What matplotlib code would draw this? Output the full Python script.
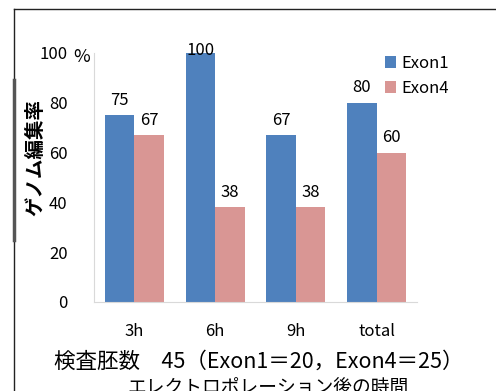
import matplotlib
matplotlib.use("Agg")
import matplotlib.pyplot as plt
import numpy as np
from matplotlib.lines import Line2D

plt.rcParams["font.family"] = ["Noto Sans CJK JP", "DejaVu Sans"]

categories = ["3h", "6h", "9h", "total"]
exon1 = [75, 100, 67, 80]
exon4 = [67, 38, 38, 60]
y_ticks = [0, 20, 40, 60, 80, 100]

BLUE = "#4F81BD"
PINK = "#D99694"
W, H = 496, 391

fig = plt.figure(figsize=(W / 100, H / 100), dpi=100)
ax = fig.add_axes([94 / W, 1 - 302 / H, (417 - 94) / W, (302 - 53) / H])

x = np.arange(len(categories))
bw = 0.365
ax.bar(x - bw / 2, exon1, bw, color=BLUE, label="Exon1", zorder=2)
ax.bar(x + bw / 2, exon4, bw, color=PINK, label="Exon4", zorder=2)

# value labels above each bar, kept inside the plot area
for xs, vals in ((x - bw / 2, exon1), (x + bw / 2, exon4)):
    for xi, v in zip(xs, vals):
        ax.text(xi, min(v + 6, 101), str(v), ha="center", va="center",
                fontsize=12, color="#000000", zorder=3, clip_on=False)

ax.set_xlim(-0.5, len(categories) - 0.5)
ax.set_ylim(0, 100)
ax.set_yticks(y_ticks)
ax.set_yticklabels([str(t) for t in y_ticks])
ax.set_xticks(x)
ax.set_xticklabels(categories)
ax.tick_params(axis="y", length=0, pad=19, labelsize=12)
ax.tick_params(axis="x", length=0, pad=15, labelsize=12)
ax.text(-0.012, 99, "%", transform=ax.get_yaxis_transform(), ha="right",
        va="center_baseline", fontsize=13)

for side in ("top", "right"):
    ax.spines[side].set_visible(False)
ax.spines["left"].set_color("#D9D9D9")
ax.spines["bottom"].set_color("#D9D9D9")

ax.set_ylabel("ゲノム編集率", fontsize=14, fontweight="bold")
ax.yaxis.set_label_coords(-0.15, 0.58)

leg = ax.legend(loc="upper left", bbox_to_anchor=((378 - 94) / (417 - 94), 1.02),
                frameon=False, fontsize=12, handlelength=0.7, handleheight=0.7,
                handletextpad=0.3, labelspacing=0.5, borderaxespad=0)

fig.text(259 / W, 1 - 362 / H, "検査胚数　45（Exon1＝20，Exon4＝25）",
         ha="center", va="center", fontsize=15.5)
fig.text(268 / W, 1 - 388 / H, "エレクトロポレーション後の時間",
         ha="center", va="center", fontsize=13.5)

# frame lines along the top and left edge
fig.add_artist(Line2D([14 / W, 14 / W], [0, 1 - 9 / H], transform=fig.transFigure,
                      color="#222222", lw=1))
fig.add_artist(Line2D([14 / W, 1], [1 - 9 / H, 1 - 9 / H], transform=fig.transFigure,
                      color="#222222", lw=1))
fig.add_artist(Line2D([14 / W, 14 / W], [1 - 240 / H, 1 - 80 / H],
                      transform=fig.transFigure, color="#555555", lw=2.5))

fig.savefig("out.png", dpi=100)
